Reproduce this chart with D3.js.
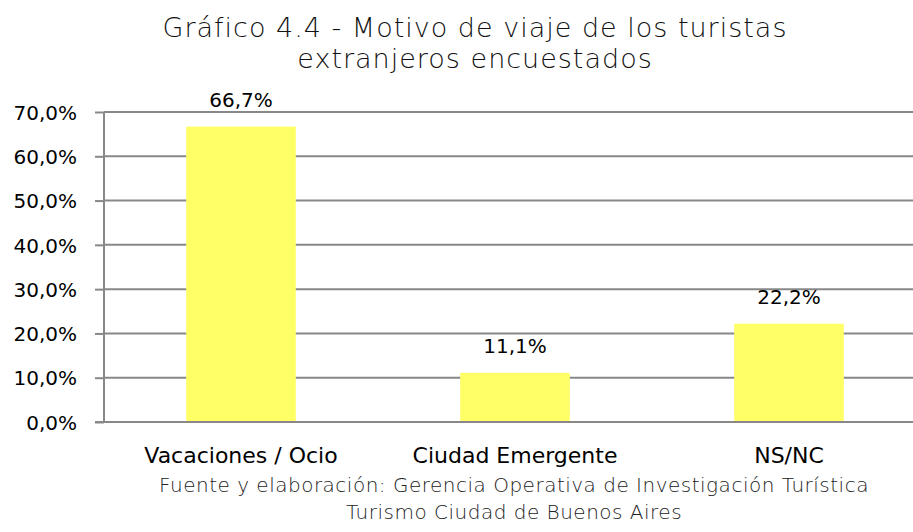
<!DOCTYPE html>
<html>
<head>
<meta charset="utf-8">
<script src="https://cdn.jsdelivr.net/npm/d3@7"></script>
<style>
  body { margin: 0; background: #fff; }
  svg { display: block; }
</style>
</head>
<body>
<div id="chart"></div>
<script>
//---------------------------------- Data --------------------
var categories = ["Vacaciones / Ocio", "Ciudad Emergente", "NS/NC"];
var values = [66.7, 11.1, 22.2];
var yTicks = [0, 10, 20, 30, 40, 50, 60, 70];
var titleLines = ["Gráfico 4.4 - Motivo de viaje de los turistas", "extranjeros encuestados"];
var sourceLines = ["Fuente y elaboración: Gerencia Operativa de Investigación Turística", "Turismo Ciudad de Buenos Aires"];

//---------------------------------- Layout --------------------
var width = 913, height = 532;
var plot = {left: 104, right: 926, top: 112, bottom: 422};
var labelFont = "'DejaVu Sans', Verdana, sans-serif";
var titleFont = "'DejaVu Sans', sans-serif";

var svg = d3.select("#chart").append("svg")
    .attr("width", width)
    .attr("height", height);

var x_scale = d3.scaleBand()
    .domain(categories)
    .range([plot.left, plot.right])
    .paddingInner(0.6)
    .paddingOuter(0.3);

var y_scale = d3.scaleLinear()
    .domain([0, 70])
    .range([plot.bottom, plot.top]);

var fmt = function(v) { return d3.format(".1f")(v).replace(".", ",") + "%"; };

// ---------- gridlines + y axis ----------
var yAxis = svg.append("g")
    .attr("transform", "translate(" + plot.left + ",0)")
    .call(d3.axisLeft(y_scale).tickValues(yTicks).tickSize(9).tickPadding(18).tickFormat(fmt));

yAxis.select(".domain").remove();
yAxis.selectAll(".tick line").attr("stroke", "#888").attr("stroke-width", 2);
yAxis.selectAll(".tick text")
    .attr("fill", "#000")
    .attr("dy", "0.36em")
    .style("font-family", labelFont)
    .style("font-size", "20px");

svg.append("g").selectAll(".grid").data(yTicks).enter().append("line")
    .attr("class", "grid")
    .attr("x1", plot.left)
    .attr("x2", plot.right)
    .attr("y1", function(d) { return y_scale(d); })
    .attr("y2", function(d) { return y_scale(d); })
    .attr("stroke", "#888")
    .attr("stroke-width", 2);

svg.append("line")
    .attr("x1", plot.left).attr("x2", plot.left)
    .attr("y1", y_scale(70)).attr("y2", y_scale(0))
    .attr("stroke", "#888")
    .attr("stroke-width", 2);

// ---------- bars ----------
svg.selectAll(".bar").data(values).enter().append("rect")
    .attr("class", "bar")
    .attr("x", function(d, i) { return x_scale(categories[i]); })
    .attr("y", function(d) { return y_scale(d); })
    .attr("width", x_scale.bandwidth())
    .attr("height", function(d) { return y_scale(0) - y_scale(d); })
    .attr("fill", "#ffff66");

// redraw baseline over the bars
svg.append("line")
    .attr("x1", plot.left - 9).attr("x2", plot.right)
    .attr("y1", y_scale(0)).attr("y2", y_scale(0))
    .attr("stroke", "#888")
    .attr("stroke-width", 2);

// ---------- value labels ----------
svg.selectAll(".vlabel").data(values).enter().append("text")
    .attr("class", "vlabel")
    .attr("x", function(d, i) { return x_scale(categories[i]) + x_scale.bandwidth() / 2; })
    .attr("y", function(d) { return y_scale(d) - 20; })
    .attr("text-anchor", "middle")
    .style("font-family", labelFont)
    .style("font-size", "20px")
    .text(function(d) { return fmt(d); });

// ---------- category labels ----------
svg.selectAll(".xlabel").data(categories).enter().append("text")
    .attr("class", "xlabel")
    .attr("x", function(d) { return x_scale(d) + x_scale.bandwidth() / 2; })
    .attr("y", 463)
    .attr("text-anchor", "middle")
    .style("font-family", labelFont)
    .style("font-size", "22px")
    .text(function(d) { return d; });

// ---------- title ----------
svg.selectAll(".title").data(titleLines).enter().append("text")
    .attr("class", "title")
    .attr("x", 475)
    .attr("y", function(d, i) { return 37 + i * 31; })
    .attr("text-anchor", "middle")
    .style("font-family", titleFont)
    .style("font-weight", 200)
    .style("font-size", "27px")
    .style("letter-spacing", "1px")
    .attr("fill", "#111")
    .text(function(d) { return d; });

// ---------- source ----------
svg.selectAll(".source").data(sourceLines).enter().append("text")
    .attr("class", "source")
    .attr("x", 514)
    .attr("y", function(d, i) { return 492 + i * 27; })
    .attr("text-anchor", "middle")
    .style("font-family", titleFont)
    .style("font-weight", 200)
    .style("font-size", "20px")
    .style("letter-spacing", "0.5px")
    .attr("fill", "#222")
    .text(function(d) { return d; });
</script>
</body>
</html>
